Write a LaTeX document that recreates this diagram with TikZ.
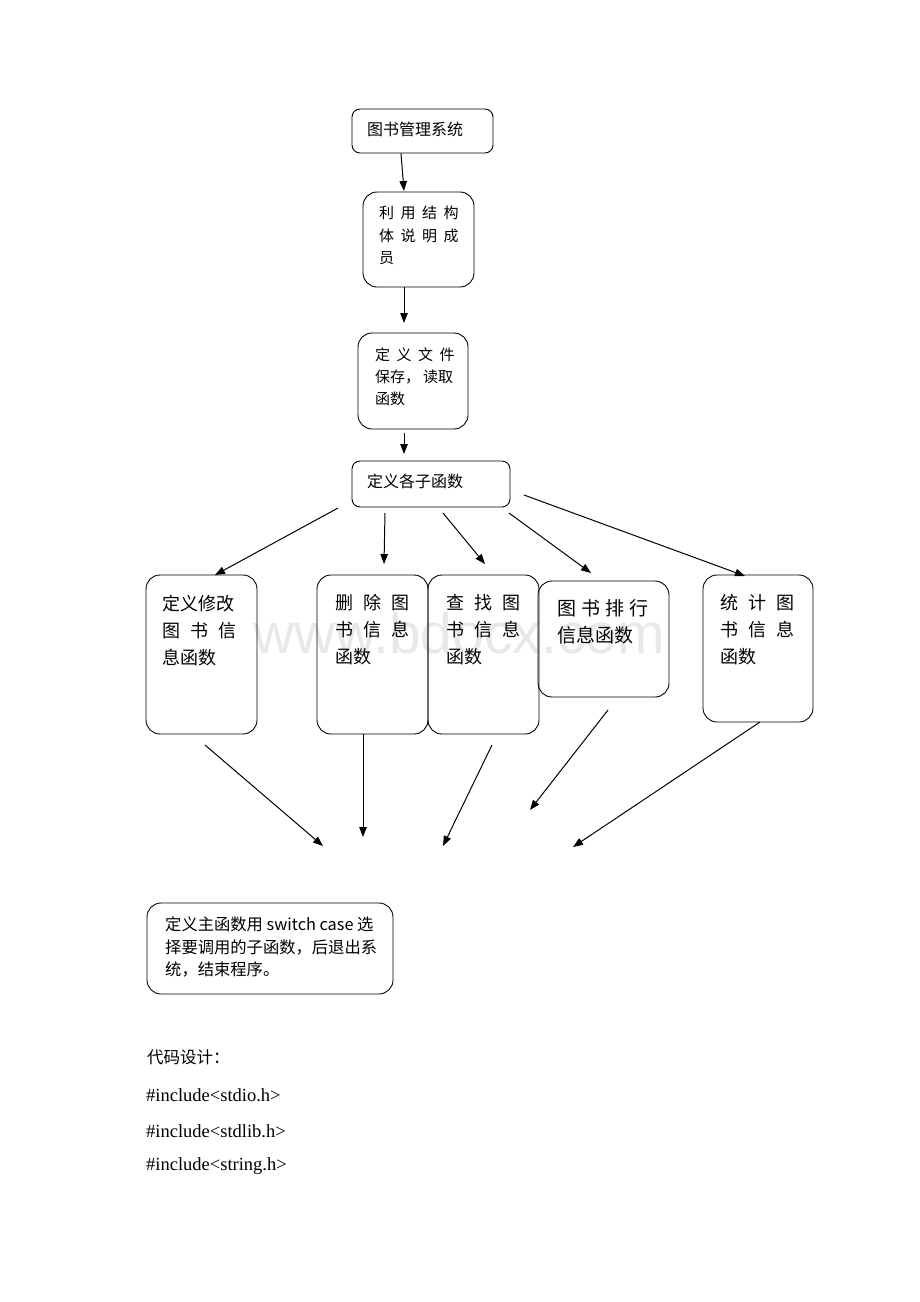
\documentclass[tikz,border=0pt]{standalone}
\usepackage{fontspec}
\setmainfont{Liberation Serif}
\newfontfamily\cjk{Noto Sans CJK SC}
\newfontfamily\wmfont{Liberation Sans}
\usetikzlibrary{arrows.meta}
\newcommand\gA{\hspace{6.5pt}}
\newcommand\gB{\hspace{10pt}}
\begin{document}
\begin{tikzpicture}[x=1pt,y=-1pt,
  box/.style={draw,line width=0.9pt,rounded corners=14pt,inner sep=0pt},
  sbox/.style={draw,line width=0.9pt,rounded corners=8pt,inner sep=0pt},
  txt/.style={anchor=west,inner sep=0pt,font=\cjk\fontsize{15}{18}\selectfont},
  btxt/.style={anchor=west,inner sep=0pt,font=\cjk\fontsize{18}{22}\selectfont},
  ctxt/.style={anchor=west,inner sep=0pt,font=\fontsize{18.5}{22}\selectfont},
  arr/.style={line width=1pt,-{Triangle[length=10pt,width=7.5pt]}}]
\useasboundingbox (0,0) rectangle (920,1302);
% watermark
\node[inner sep=0pt,text=black!9,font=\wmfont\fontsize{57}{60}\selectfont] (wm) at (459,633) {www.bdocx.com};
% top boxes
\node[sbox,minimum width=141,minimum height=44] (b1) at (422.5,131) {};
\node[txt,font=\cjk\fontsize{16}{18}\selectfont] (t1) at (367,129) {图书管理系统};
\node[box,minimum width=111,minimum height=95] (b2) at (418.5,239.5) {};
\node[txt] (t2a) at (379,213) {利\gA 用\gA 结\gA 构};
\node[txt] (t2b) at (379,236) {体\gA 说\gA 明\gA 成};
\node[txt] (t2c) at (379,258) {员};
\node[box,minimum width=110,minimum height=96] (b3) at (413,381) {};
\node[txt] (t3a) at (375,355) {定\gA 义\gA 文\gA 件};
\node[txt] (t3b) at (375,377) {保存，\hspace{3pt}读取};
\node[txt] (t3c) at (375,399) {函数};
\node[sbox,minimum width=158,minimum height=46] (b4) at (431,484) {};
\node[txt,font=\cjk\fontsize{16}{18}\selectfont] (t4) at (367,481) {定义各子函数};
% middle boxes
\node[box,minimum width=111,minimum height=159] (b5) at (201.5,654.5) {};
\node[btxt] (t5a) at (162,604) {定义修改};
\node[btxt] (t5b) at (162,631) {图\gB 书\gB 信};
\node[btxt] (t5c) at (162,658) {息函数};
\node[box,minimum width=111,minimum height=159] (b6) at (372.5,654.5) {};
\node[btxt] (t6a) at (335,603) {删\gB 除\gB 图};
\node[btxt] (t6b) at (335,630) {书\gB 信\gB 息};
\node[btxt] (t6c) at (335,657) {函数};
\node[box,minimum width=111,minimum height=159] (b7) at (483.5,654.5) {};
\node[btxt] (t7a) at (446,603) {查\gB 找\gB 图};
\node[btxt] (t7b) at (446,630) {书\gB 信\gB 息};
\node[btxt] (t7c) at (446,657) {函数};
\node[box,minimum width=131,minimum height=116] (b8) at (603.5,639) {};
\node[btxt,font=\cjk\fontsize{19}{22}\selectfont] (t8a) at (557,608) {图\hspace{5pt}书\hspace{5pt}排\hspace{5pt}行};
\node[btxt,font=\cjk\fontsize{19}{22}\selectfont] (t8b) at (557,635) {信息函数};
\node[box,minimum width=110,minimum height=147] (b9) at (758,648.5) {};
\node[btxt] (t9a) at (720,603) {统\gB 计\gB 图};
\node[btxt] (t9b) at (720,630) {书\gB 信\gB 息};
\node[btxt] (t9c) at (720,657) {函数};
% main box
\node[box,minimum width=246,minimum height=91] (b10) at (270,948.5) {};
\node[txt,font=\cjk\fontsize{16.3}{18}\selectfont] (t10a) at (165,924) {定义主函数用 switch case 选};
\node[txt,font=\cjk\fontsize{16.3}{18}\selectfont] (t10b) at (165,947) {择要调用的子函数，后退出系};
\node[txt,font=\cjk\fontsize{16.3}{18}\selectfont] (t10c) at (165,969) {统，结束程序。};
% code text
\node[txt,font=\cjk\fontsize{16.5}{18}\selectfont] (c0) at (147,1057) {代码设计：};
\node[ctxt] (c1) at (146,1095) {\#include<stdio.h>};
\node[ctxt] (c2) at (146,1131) {\#include<stdlib.h>};
\node[ctxt] (c3) at (146,1166) {\#include<string.h>};
% arrow coordinates
\coordinate (e2) at (404,191);
\coordinate (s3) at (404,287);
\coordinate (e3) at (404,323);
\coordinate (s4) at (404,433);
\coordinate (e4) at (404,454);
\coordinate (s5) at (338,508);
\coordinate (e5) at (215,575);
\coordinate (s6) at (385,513);
\coordinate (e6) at (384,564);
\coordinate (s7) at (443,513);
\coordinate (e7) at (485,564);
\coordinate (s8) at (509,513);
\coordinate (e8) at (591,573);
\coordinate (s9) at (524,495);
\coordinate (e9) at (745,576);
\coordinate (u5) at (205,745);
\coordinate (v5) at (323,846);
\coordinate (u6) at (363,734);
\coordinate (v6) at (363,837);
\coordinate (u7) at (492,745);
\coordinate (v7) at (443,846);
\coordinate (u8) at (608,710);
\coordinate (v8) at (530,810);
\coordinate (u9) at (760,722);
\coordinate (v9) at (573,847);
\draw[arr] (b1.south -| 401,0) -- (e2);
\draw[arr] (s3) -- (e3);
\draw[arr] (s4) -- (e4);
\draw[arr] (s5) -- (e5);
\draw[arr] (s6) -- (e6);
\draw[arr] (s7) -- (e7);
\draw[arr] (s8) -- (e8);
\draw[arr] (s9) -- (e9);
\draw[arr] (u5) -- (v5);
\draw[arr] (u6) -- (v6);
\draw[arr] (u7) -- (v7);
\draw[arr] (u8) -- (v8);
\draw[arr] (u9) -- (v9);
\end{tikzpicture}
\end{document}
